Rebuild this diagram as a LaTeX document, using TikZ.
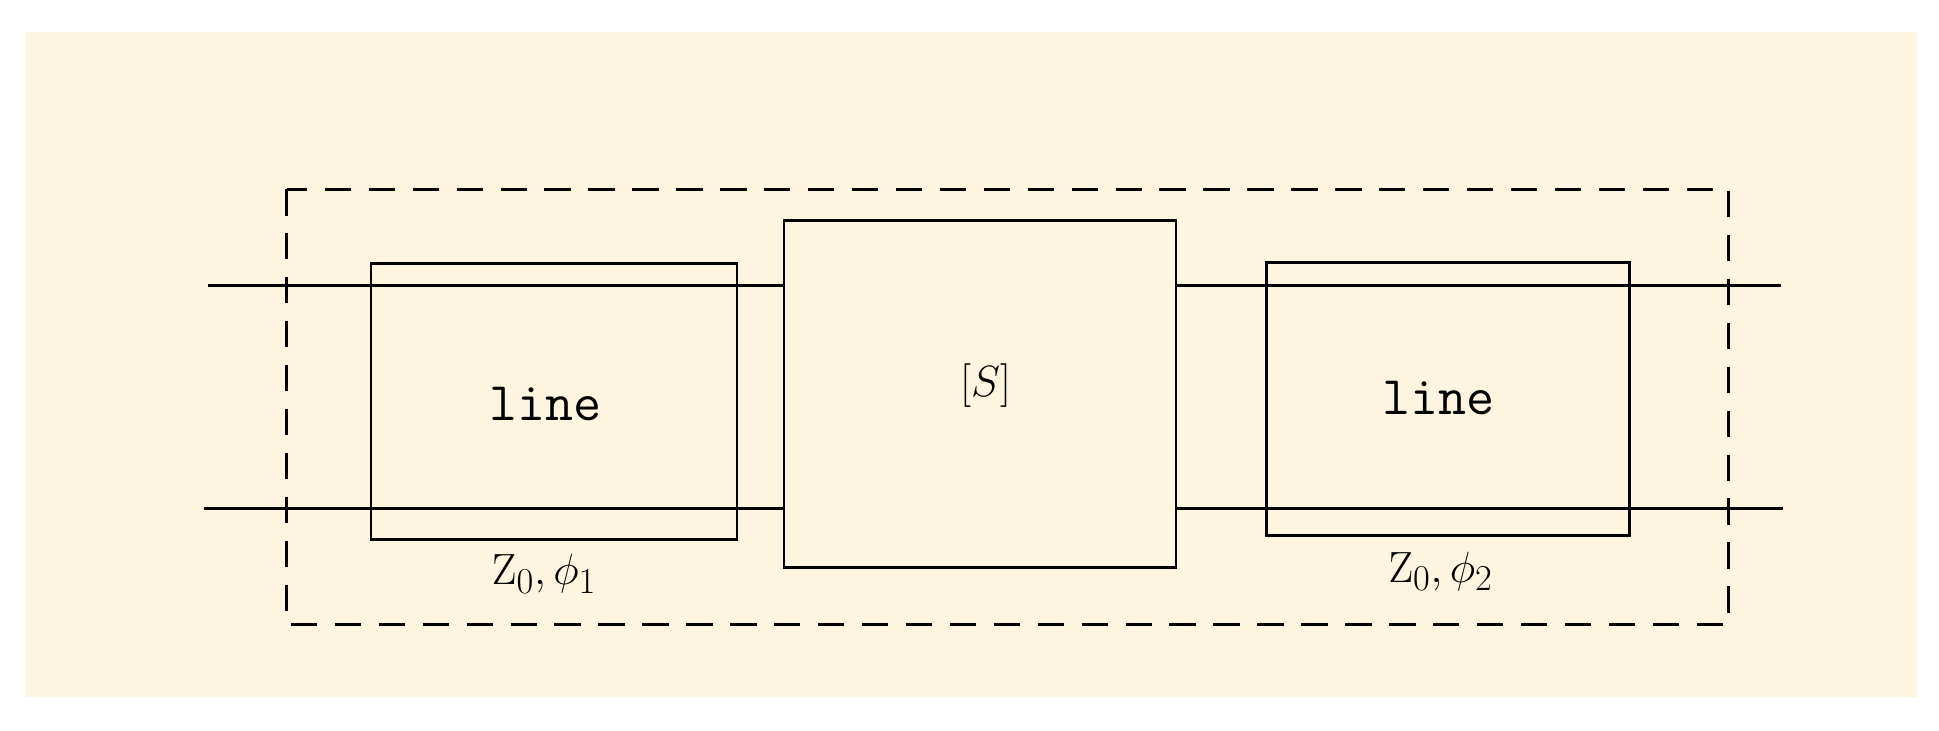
\documentclass[tikz,border=0pt]{standalone}
\begin{document}
\begin{tikzpicture}[x=0.02473cm,y=-0.02473cm,
  box/.style={draw,line width=1.6pt},
  wire/.style={line width=1.6pt},
  lbl/.style={font=\fontsize{31}{36}\selectfont}]
\useasboundingbox (0,0) rectangle (1568,591);
\fill[white] (0,0) rectangle (1568,591);
\fill[fill={rgb,255:red,253;green,245;blue,224}] (20,26) rectangle (1550,564);
\draw[dashed,line width=1.6pt,dash pattern=on 15pt off 10pt] (232,153) rectangle (1398,505);
\coordinate (lb1) at (300,213); \coordinate (lb2) at (596,436);
\coordinate (cb1) at (634,178); \coordinate (cb2) at (951,459);
\coordinate (rb1) at (1024,212); \coordinate (rb2) at (1318,433);
\draw[box] (lb1) rectangle (lb2);
\draw[box] (cb1) rectangle (cb2);
\draw[box] (rb1) rectangle (rb2);
\coordinate (t0) at (168,231); \coordinate (t1) at (634,231);
\coordinate (t2) at (951,231); \coordinate (t3) at (1440,231);
\coordinate (b0) at (165,411); \coordinate (b1) at (634,411);
\coordinate (b2) at (951,411); \coordinate (b3) at (1442,411);
\draw[wire] (t0) -- (t1); \draw[wire] (t2) -- (t3);
\draw[wire] (b0) -- (b1); \draw[wire] (b2) -- (b3);
\node[lbl] (l1) at (441,327) {\texttt{line}};
\node[lbl] (l2) at (1163,322) {\texttt{line}};
\node[lbl] (s) at (797,312) {$[S]$};
\node[lbl] (z1) at (440,464) {$\mathrm{Z}_0,\phi_1$};
\node[lbl] (z2) at (1165,462) {$\mathrm{Z}_0,\phi_2$};
\end{tikzpicture}
\end{document}
